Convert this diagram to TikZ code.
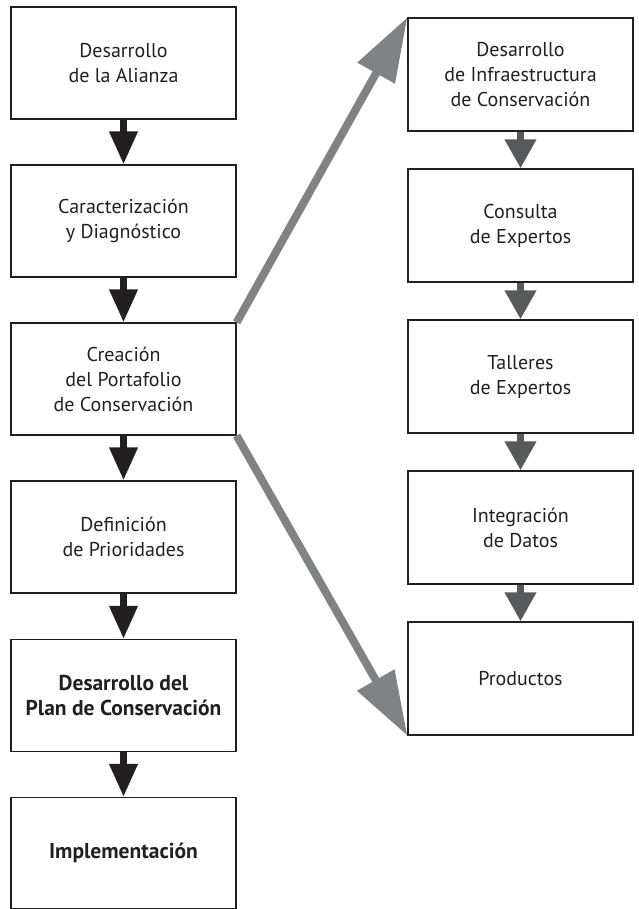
\documentclass[tikz,border=0pt]{standalone}
\usepackage{fontspec}
\setmainfont{PT Sans}
\usetikzlibrary{arrows.meta}
\definecolor{ink}{HTML}{231F20}
\definecolor{dgray}{HTML}{58595B}
\definecolor{lgray}{HTML}{808285}
\tikzset{
  box/.style={draw=ink, line width=1.3pt, minimum width=225pt, minimum height=112pt,
    align=center, inner sep=2pt, text=ink, font=\fontsize{20}{25}\selectfont},
  rbox/.style={box, minimum height=113pt},
  bbox/.style={box, font=\fontsize{21.5}{25}\selectfont\bfseries},
  blkarrow/.style={draw=ink, line width=7pt, -{Triangle[length=33pt,width=27pt]}},
  grayarrow/.style={draw=dgray, line width=7pt, -{Triangle[length=29pt,width=30pt]}},
  diagarrow/.style={draw=lgray, line width=8pt, -{Triangle[length=64pt,width=41pt]}}
}
\begin{document}
\begin{tikzpicture}[x=1pt,y=-1pt]
\useasboundingbox (0,0) rectangle (638,909);
\node[box] (b1) at (123.5,63) {Desarrollo\\de la Alianza};
\node[box] (b2) at (123.5,221) {Caracterización\\y Diagnóstico};
\node[box] (b3) at (123.5,379) {Creación\\del Portafolio\\de Conservación};
\node[box] (b4) at (123.5,537) {Definición\\de Prioridades};
\node[bbox] (b5) at (123.5,695.5) {Desarrollo del\\Plan de Conservación};
\node[bbox, minimum height=111pt] (b6) at (123.5,853) {Implementación};
\node[rbox] (r1) at (520.5,74.5) {Desarrollo\\de Infraestructura\\de Conservación};
\node[rbox] (r2) at (520.5,225.5) {Consulta\\de Expertos};
\node[rbox] (r3) at (520.5,376.5) {Talleres\\de Expertos};
\node[rbox] (r4) at (520.5,527.5) {Integración\\de Datos};
\node[rbox] (r5) at (520.5,678.5) {Productos};
\draw[blkarrow] (b1.south) -- (b2.north);
\draw[blkarrow] (b2.south) -- (b3.north);
\draw[blkarrow] (b3.south) -- (b4.north);
\draw[blkarrow] (b4.south) -- (b5.north);
\draw[blkarrow] (b5.south) -- (b6.north);
\draw[grayarrow] (r1.south) -- (r2.north);
\draw[grayarrow] (r2.south) -- (r3.north);
\draw[grayarrow] (r3.south) -- (r4.north);
\draw[grayarrow] (r4.south) -- (r5.north);
\draw[diagarrow] (b3.north east) -- (r1.north west);
\draw[diagarrow] (b3.south east) -- (r5.south west);
\end{tikzpicture}
\end{document}
